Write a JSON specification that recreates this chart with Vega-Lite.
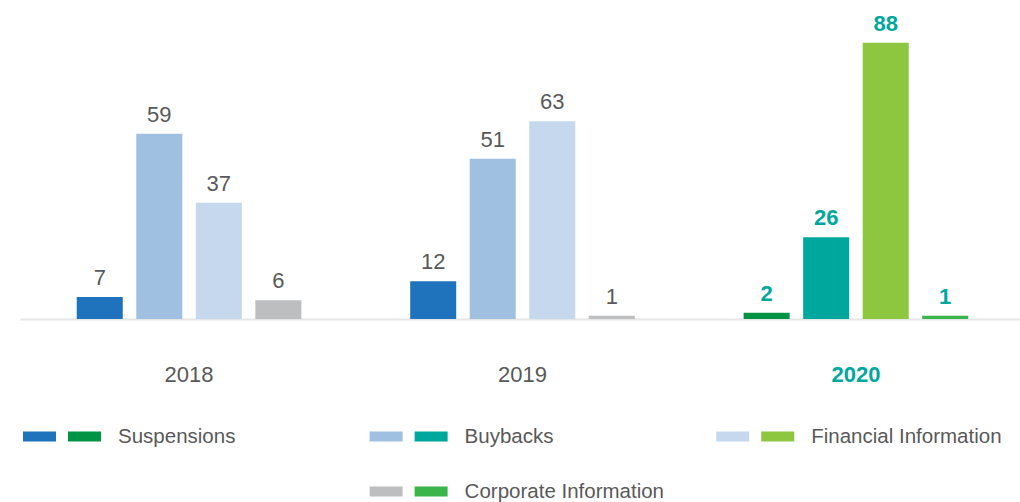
{
  "$schema": "https://vega.github.io/schema/vega-lite/v6.json",
  "padding": {"left": 20, "top": 5, "right": 0, "bottom": 0},
  "background": "white",
  "config": {"view": {"stroke": null}, "font": "Liberation Sans"},
  "spacing": 24,
  "datasets": {
    "bars": [
      {"year": "2018", "category": "Suspensions", "series": "Suspensions", "value": 7},
      {"year": "2018", "category": "Buybacks", "series": "Buybacks", "value": 59},
      {"year": "2018", "category": "Financial Information", "series": "Financial Information", "value": 37},
      {"year": "2018", "category": "Corporate Information", "series": "Corporate Information", "value": 6},
      {"year": "2019", "category": "Suspensions", "series": "Suspensions", "value": 12},
      {"year": "2019", "category": "Buybacks", "series": "Buybacks", "value": 51},
      {"year": "2019", "category": "Financial Information", "series": "Financial Information", "value": 63},
      {"year": "2019", "category": "Corporate Information", "series": "Corporate Information", "value": 1},
      {"year": "2020", "category": "Suspensions", "series": "Suspensions 2020", "value": 2},
      {"year": "2020", "category": "Buybacks", "series": "Buybacks 2020", "value": 26},
      {"year": "2020", "category": "Financial Information", "series": "Financial Information 2020", "value": 88},
      {"year": "2020", "category": "Corporate Information", "series": "Corporate Information 2020", "value": 1}
    ],
    "legend": [
      {"category": "Suspensions", "series": "Suspensions", "slot": 0, "col": 0, "row": 0},
      {"category": "Suspensions", "series": "Suspensions 2020", "slot": 1, "col": 0, "row": 0},
      {"category": "Buybacks", "series": "Buybacks", "slot": 0, "col": 1, "row": 0},
      {"category": "Buybacks", "series": "Buybacks 2020", "slot": 1, "col": 1, "row": 0},
      {"category": "Financial Information", "series": "Financial Information", "slot": 0, "col": 2, "row": 0},
      {"category": "Financial Information", "series": "Financial Information 2020", "slot": 1, "col": 2, "row": 0},
      {"category": "Corporate Information", "series": "Corporate Information", "slot": 0, "col": 1, "row": 1},
      {"category": "Corporate Information", "series": "Corporate Information 2020", "slot": 1, "col": 1, "row": 1}
    ]
  },
  "vconcat": [
    {
      "width": 1005,
      "height": 314,
      "data": {"name": "bars"},
      "encoding": {
        "x": {
          "field": "year",
          "type": "nominal",
          "scale": {"paddingInner": 0.286, "paddingOuter": 0.15},
          "axis": {
            "title": null,
            "labelAngle": 0,
            "ticks": false,
            "domainColor": "#e6e6e6",
            "domainWidth": 2,
            "labelFontSize": 22,
            "labelPadding": 45,
            "labelColor": {"condition": {"test": "datum.value == '2020'", "value": "#00a79d"}, "value": "#595959"},
            "labelFontWeight": {"condition": {"test": "datum.value == '2020'", "value": "bold"}, "value": "normal"}
          }
        },
        "xOffset": {
          "field": "category",
          "type": "nominal",
          "sort": ["Suspensions", "Buybacks", "Financial Information", "Corporate Information"],
          "scale": {"paddingInner": 0.227, "paddingOuter": 0.113}
        },
        "y": {"field": "value", "type": "quantitative", "scale": {"domain": [0, 100]}, "axis": null}
      },
      "layer": [
        {
          "mark": {"type": "bar"},
          "encoding": {
            "color": {
              "field": "series",
              "type": "nominal",
              "scale": {
                "domain": ["Suspensions", "Buybacks", "Financial Information", "Corporate Information", "Suspensions 2020", "Buybacks 2020", "Financial Information 2020", "Corporate Information 2020"],
                "range": ["#1f73bd", "#a0c0e2", "#c5d8ee", "#bdbec0", "#009444", "#00a79d", "#8dc63f", "#39b54a"]
              },
              "legend": null
            }
          }
        },
        {
          "transform": [{"filter": "datum.year != '2020'"}],
          "mark": {"type": "text", "dy": -7, "baseline": "bottom", "fontSize": 22, "color": "#595959"},
          "encoding": {"text": {"field": "value", "type": "quantitative"}}
        },
        {
          "transform": [{"filter": "datum.year == '2020'"}],
          "mark": {"type": "text", "dy": -7, "baseline": "bottom", "fontSize": 22, "fontWeight": "bold", "color": "#00a79d"},
          "encoding": {"text": {"field": "value", "type": "quantitative"}}
        }
      ]
    },
    {
      "width": 1000,
      "height": 110,
      "data": {"name": "legend"},
      "encoding": {
        "x": {"field": "col", "type": "quantitative", "scale": {"domain": [0, 2.885]}, "axis": null},
        "y": {"field": "row", "type": "ordinal", "scale": {"paddingInner": 0, "paddingOuter": 0}, "axis": null}
      },
      "layer": [
        {
          "transform": [{"filter": "datum.slot == 0"}],
          "mark": {"type": "tick", "orient": "horizontal", "size": 33, "thickness": 10, "xOffset": 19.5, "opacity": 1},
          "encoding": {
            "color": {
              "field": "series",
              "type": "nominal",
              "scale": {
                "domain": ["Suspensions", "Buybacks", "Financial Information", "Corporate Information", "Suspensions 2020", "Buybacks 2020", "Financial Information 2020", "Corporate Information 2020"],
                "range": ["#1f73bd", "#a0c0e2", "#c5d8ee", "#bdbec0", "#009444", "#00a79d", "#8dc63f", "#39b54a"]
              },
              "legend": null
            }
          }
        },
        {
          "transform": [{"filter": "datum.slot == 1"}],
          "mark": {"type": "tick", "orient": "horizontal", "size": 33, "thickness": 10, "xOffset": 64.5, "opacity": 1},
          "encoding": {
            "color": {
              "field": "series",
              "type": "nominal",
              "legend": null
            }
          }
        },
        {
          "transform": [{"filter": "datum.slot == 0"}],
          "mark": {"type": "text", "align": "left", "baseline": "middle", "dx": 98, "fontSize": 20.5, "color": "#595959"},
          "encoding": {"text": {"field": "category", "type": "nominal"}}
        }
      ]
    }
  ]
}
